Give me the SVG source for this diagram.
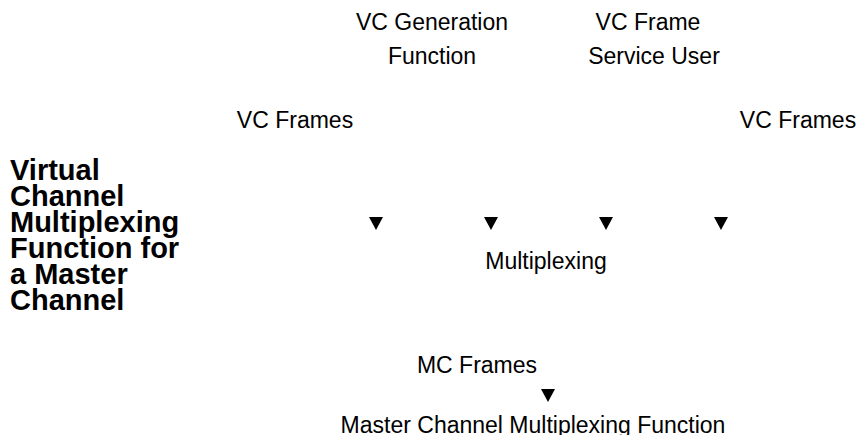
<svg xmlns="http://www.w3.org/2000/svg" width="860" height="435" viewBox="0 0 860 435">
<style>
text{font-family:"Liberation Sans",Arial,Helvetica,sans-serif;fill:#000;}
.l{font-size:23px;text-anchor:middle;}
.t{font-size:29px;font-weight:bold;}
.arr{fill:#000;}
</style>
<rect width="860" height="435" fill="#fff"/>
<g id="title"><text class="t" x="10" y="180">Virtual<tspan x="10" y="206">Channel</tspan><tspan x="10" y="232">Multiplexing</tspan><tspan x="10" y="258">Function for</tspan><tspan x="10" y="284">a Master</tspan><tspan x="10" y="310">Channel</tspan></text></g>
<g id="vcgen"><text class="l" x="432" y="30">VC Generation<tspan x="432" y="64">Function</tspan></text></g>
<g id="vcuser"><text class="l" x="648" y="30">VC Frame<tspan x="654" y="64">Service User</tspan></text></g>
<g id="vcframes1"><text class="l" x="295" y="128">VC Frames</text></g>
<g id="vcframes2"><text class="l" x="798" y="128">VC Frames</text></g>
<g id="mux"><text class="l" x="546" y="269">Multiplexing</text></g>
<g id="mcframes"><text class="l" x="477" y="373">MC Frames</text></g>
<g id="mcmux"><text class="l" x="533" y="433">Master Channel Multiplexing Function</text></g>
<g id="connectors">
<path class="arr" d="M369 217h14l-7 13z"/>
<path class="arr" d="M484 217h14l-7 13z"/>
<path class="arr" d="M599 217h14l-7 13z"/>
<path class="arr" d="M714 217h14l-7 13z"/>
<path class="arr" d="M541 389h14l-7 13z"/>
</g>
</svg>
